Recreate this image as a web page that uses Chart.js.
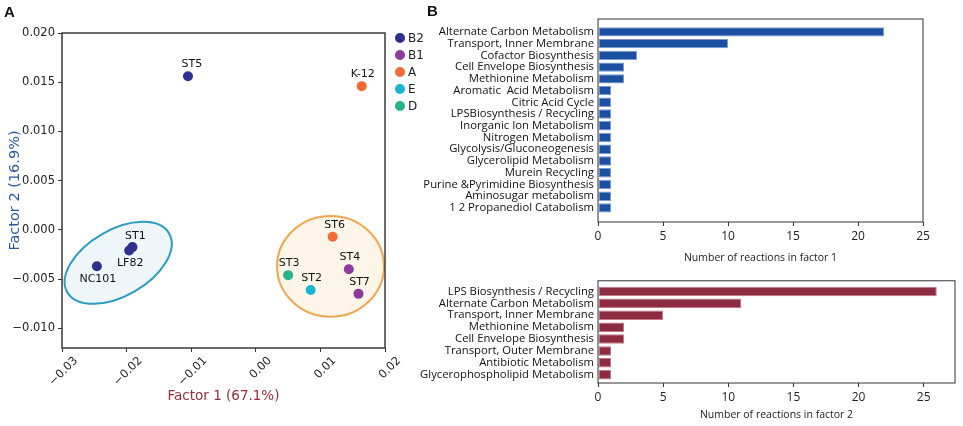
<!DOCTYPE html>
<html>
<head>
<meta charset="utf-8">
<script src="https://cdn.jsdelivr.net/npm/chart.js@4.4.1/dist/chart.umd.min.js"></script>
<style>
  body { margin: 0; background: #fff; }
  #wrap { position: relative; width: 963px; height: 426px; overflow: hidden; }
  .panel { position: absolute; }
  .letter { position: absolute; font: bold 15px "Liberation Sans", Arial, sans-serif; line-height: 15px; color: #111; }
</style>
</head>
<body>
<div id="wrap">
  <div class="panel" style="left:0;top:0;width:430px;height:426px"><canvas id="scatter"></canvas></div>
  <div class="panel" style="left:400px;top:0;width:563px;height:270px"><canvas id="bar1"></canvas></div>
  <div class="panel" style="left:400px;top:270px;width:563px;height:156px"><canvas id="bar2"></canvas></div>
  <div class="letter" style="left:4px;top:4px">A</div>
  <div class="letter" style="left:427px;top:3px">B</div>
</div>
<script>
// --- panel A: strains on the two factors
const groups = ['B2', 'B1', 'A', 'E', 'D'];
const groupColors = ['#2e3192', '#8e3a9c', '#f26b35', '#1db3d4', '#25b48b'];
const strains = ['ST5', 'K-12', 'ST1', 'LF82', 'NC101', 'ST6', 'ST4', 'ST7', 'ST3', 'ST2'];
const strainGroup = ['B2', 'A', 'B2', 'B2', 'B2', 'A', 'B1', 'B1', 'D', 'E'];
const factor1 = [-0.0105, 0.0164, -0.0191, -0.0196, -0.0246, 0.0119, 0.0144, 0.0159, 0.0050, 0.0085];
const factor2 = [0.0156, 0.0146, -0.00175, -0.0021, -0.0037, -0.0007, -0.0040, -0.0065, -0.0046, -0.0061];
const xTicks = [-0.03, -0.02, -0.01, 0.00, 0.01, 0.02];
const yTicks = [-0.010, -0.005, 0.000, 0.005, 0.010, 0.015, 0.020];

// cluster outlines (centre and radii in data units, angle in degrees)
const clusterEllipses = [
  { cx: -0.0213, cy: -0.00335, rx: 0.0091, ry: 0.00335, angle: 30, stroke: '#2b9cc2', fill: '#eef6f9' },
  { cx: 0.01157, cy: -0.0037, rx: 0.00828, ry: 0.00512, angle: 0, stroke: '#f0a64e', fill: '#fcf5e8' }
];

// --- panel B: reactions per factor
const factor1Cats = ['Alternate Carbon Metabolism', 'Transport, Inner Membrane', 'Cofactor Biosynthesis',
  'Cell Envelope Biosynthesis', 'Methionine Metabolism', 'Aromatic  Acid Metabolism', 'Citric Acid Cycle',
  'LPSBiosynthesis / Recycling', 'Inorganic Ion Metabolism', 'Nitrogen Metabolism', 'Glycolysis/Gluconeogenesis',
  'Glycerolipid Metabolism', 'Murein Recycling', 'Purine &Pyrimidine Biosynthesis', 'Aminosugar metabolism',
  '1 2 Propanediol Catabolism'];
const factor1Counts = [22, 10, 3, 2, 2, 1, 1, 1, 1, 1, 1, 1, 1, 1, 1, 1];
const factor2Cats = ['LPS Biosynthesis / Recycling', 'Alternate Carbon Metabolism', 'Transport, Inner Membrane',
  'Methionine Metabolism', 'Cell Envelope Biosynthesis', 'Transport, Outer Membrane', 'Antibiotic Metabolism',
  'Glycerophospholipid Metabolism'];
const factor2Counts = [26, 11, 5, 2, 2, 1, 1, 1];
const countTicks = [0, 5, 10, 15, 20, 25];

Chart.defaults.animation = false;
Chart.defaults.color = '#222';

const minus = s => s.replace('-', '\u2212');

// box round the plot area, like the matplotlib frame
const framePlugin = {
  id: 'frame',
  afterDraw(chart, args, opts) {
    const { ctx, chartArea: a } = chart;
    ctx.save();
    ctx.strokeStyle = opts.color || '#333';
    ctx.lineWidth = opts.width || 1;
    ctx.strokeRect(a.left, a.top, a.right - a.left, a.bottom - a.top);
    ctx.restore();
  }
};

const ellipsePlugin = {
  id: 'ellipses',
  beforeDatasetsDraw(chart) {
    const { ctx, scales: { x, y } } = chart;
    clusterEllipses.forEach(e => {
      const px = x.getPixelForValue(e.cx);
      const py = y.getPixelForValue(e.cy);
      const rx = Math.abs(x.getPixelForValue(e.cx + e.rx) - px);
      const ry = Math.abs(y.getPixelForValue(e.cy + e.ry) - py);
      ctx.save();
      ctx.beginPath();
      ctx.ellipse(px, py, rx, ry, -e.angle * Math.PI / 180, 0, 2 * Math.PI);
      ctx.fillStyle = e.fill;
      ctx.fill();
      ctx.lineWidth = 2;
      ctx.strokeStyle = e.stroke;
      ctx.stroke();
      ctx.restore();
    });
  }
};

// where each strain name sits relative to its dot
const labelOffsets = {
  'ST5': [4, -12], 'K-12': [1, -12], 'ST1': [3, -11], 'LF82': [1, 13], 'NC101': [1, 13],
  'ST6': [2, -12], 'ST4': [1, -12], 'ST7': [1, -12], 'ST3': [1, -12], 'ST2': [1, -12]
};

const pointLabelPlugin = {
  id: 'pointLabels',
  afterDatasetsDraw(chart) {
    const { ctx } = chart;
    ctx.save();
    ctx.font = '11px "DejaVu Sans"';
    ctx.fillStyle = '#111';
    ctx.textAlign = 'center';
    ctx.textBaseline = 'middle';
    chart.data.datasets.forEach((ds, di) => {
      chart.getDatasetMeta(di).data.forEach((pt, i) => {
        const name = ds.data[i].name;
        const off = labelOffsets[name] || [0, -12];
        ctx.fillText(name, pt.x + off[0], pt.y + off[1]);
      });
    });
    ctx.restore();
  }
};

const groupLegendPlugin = {
  id: 'groupLegend',
  afterDraw(chart) {
    const { ctx, chartArea } = chart;
    ctx.save();
    ctx.font = '12px "DejaVu Sans"';
    ctx.textBaseline = 'middle';
    chart.data.datasets.forEach((ds, i) => {
      const cy = chartArea.top + 5 + i * 17;
      const cx = chartArea.right + 15;
      ctx.beginPath();
      ctx.arc(cx, cy, 5, 0, 2 * Math.PI);
      ctx.fillStyle = ds.backgroundColor;
      ctx.fill();
      ctx.fillStyle = '#222';
      ctx.fillText(ds.label, cx + 8, cy + 1);
    });
    ctx.restore();
  }
};

const scatterDatasets = groups.map((g, gi) => ({
  label: g,
  data: strains
    .map((s, i) => ({ x: factor1[i], y: factor2[i], name: s, g: strainGroup[i] }))
    .filter(p => p.g === g),
  backgroundColor: groupColors[gi],
  borderWidth: 0,
  pointRadius: 5
}));

const axisFontA = { family: 'DejaVu Sans', size: 11.5 };

new Chart(document.getElementById('scatter'), {
  type: 'scatter',
  data: { datasets: scatterDatasets },
  options: {
    responsive: true,
    maintainAspectRatio: false,
    layout: { padding: { top: 33, right: 45, left: 0, bottom: 0 } },
    plugins: {
      legend: { display: false },
      tooltip: { enabled: false },
      frame: { color: '#3a3a3a', width: 1.5 }
    },
    scales: {
      x: {
        type: 'linear', min: -0.03, max: 0.02,
        afterBuildTicks: s => { s.ticks = xTicks.map(v => ({ value: v })); },
        afterFit: s => { s.height = 78; },
        grid: { drawOnChartArea: false, tickLength: 4, color: '#333' },
        border: { display: false },
        ticks: {
          autoSkip: false, minRotation: 45, maxRotation: 45, labelOffset: 14, padding: 2,
          font: axisFontA, color: '#222',
          callback: v => minus(v.toFixed(2))
        },
        title: {
          display: true, text: 'Factor 1 (67.1%)', color: '#9a2b3b',
          font: { family: 'DejaVu Sans', size: 13.5 }, padding: { top: 0, bottom: 21 }
        }
      },
      y: {
        type: 'linear', min: -0.012, max: 0.020,
        afterBuildTicks: s => { s.ticks = yTicks.map(v => ({ value: v })); },
        afterFit: s => { s.width = 62; },
        grid: { drawOnChartArea: false, tickLength: 4, color: '#333' },
        border: { display: false },
        ticks: { padding: 3, font: axisFontA, color: '#222', callback: v => minus(v.toFixed(3)) },
        title: {
          display: true, text: 'Factor 2 (16.9%)', color: '#2c5aa6',
          font: { family: 'DejaVu Sans', size: 14.5 }, padding: { top: 7, bottom: 0 }
        }
      }
    }
  },
  plugins: [ellipsePlugin, pointLabelPlugin, groupLegendPlugin, framePlugin]
});

// --- the two bar panels
const labelFontB = { family: 'Open Sans', size: 11.3 };

function reactionBars(canvasId, cats, counts, fill, edge, xMax, yMin, yMax, title, pad, xHeight, titlePad) {
  return new Chart(document.getElementById(canvasId), {
    type: 'bar',
    data: {
      datasets: [{
        data: counts.map((v, i) => ({ x: v, y: i })),
        backgroundColor: fill,
        borderColor: edge,
        borderWidth: 1,
        borderSkipped: false,
        categoryPercentage: 1,
        barPercentage: 0.8
      }]
    },
    options: {
      indexAxis: 'y',
      responsive: true,
      maintainAspectRatio: false,
      layout: { padding: pad },
      plugins: {
        legend: { display: false },
        tooltip: { enabled: false },
        frame: { color: '#333', width: 1 }
      },
      scales: {
        x: {
          type: 'linear', min: 0, max: xMax,
          afterBuildTicks: s => { s.ticks = countTicks.map(v => ({ value: v })); },
          afterFit: s => { s.height = xHeight; },
          grid: { drawOnChartArea: false, tickLength: 4, color: '#333' },
          border: { display: false },
          ticks: { padding: 3, font: { family: 'Open Sans', size: 12 }, color: '#222' },
          title: {
            display: true, text: title, color: '#222',
            font: { family: 'Open Sans', size: 10.5 }, padding: { top: 0, bottom: titlePad }
          }
        },
        y: {
          type: 'linear', reverse: true, min: yMin, max: yMax, offset: false,
          afterBuildTicks: s => { s.ticks = cats.map((c, i) => ({ value: i })); },
          afterFit: s => { s.width = 198; },
          grid: { display: false, drawTicks: false, offset: false },
          border: { display: false },
          ticks: { autoSkip: false, padding: 4, font: labelFontB, color: '#111', callback: v => cats[v] }
        }
      }
    },
    plugins: [framePlugin]
  });
}

reactionBars('bar1', factor1Cats, factor1Counts, '#1b4f9f', '#7d9cd4', 25, -1.1, 16.2,
  'Number of reactions in factor 1', { top: 19, right: 40, left: 0, bottom: 0 }, 48, 6);
reactionBars('bar2', factor2Cats, factor2Counts, '#8d2b40', '#c27a8b', 27.4, -0.9, 7.7,
  'Number of reactions in factor 2', { top: 8, right: 8, left: 0, bottom: 0 }, 43, 5);
</script>
</body>
</html>
